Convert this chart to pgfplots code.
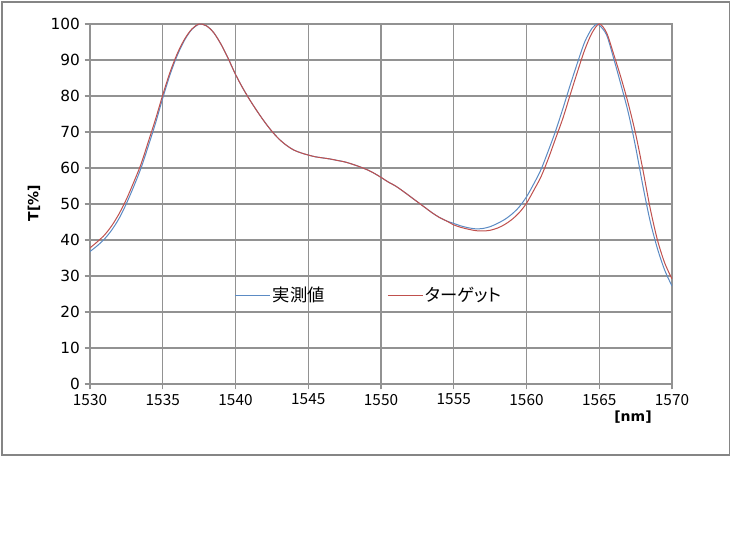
\documentclass[border=0pt]{standalone}
\usepackage{fontspec}
\setmainfont{DejaVu Sans}
\newfontfamily\jp{Noto Sans CJK JP}
\newfontfamily\jpp[RawFeature=+palt]{Noto Sans CJK JP}
\usepackage{pgfplots}
\pgfplotsset{compat=1.18}
\definecolor{meas}{HTML}{5B8BC4}
\definecolor{targ}{HTML}{C0504D}
\definecolor{gridc}{HTML}{929292}
\definecolor{framec}{HTML}{858585}
\begin{document}
\begin{tikzpicture}
\path[use as bounding box, fill=white] (0,0) rectangle (549pt,412.5pt);
\draw[framec, line width=1.1pt] (1.5pt,71.25pt) rectangle (547pt,411pt);
\begin{axis}[
  at={(67.5pt,124.5pt)}, anchor=south west,
  scale only axis, width=436.5pt, height=270pt,
  xmin=1530, xmax=1570, ymin=0, ymax=100,
  xtick={1530,1535,...,1570}, ytick={0,10,...,100},
  grid=major, major grid style={gridc, line width=0.8pt},
  axis line style={gridc, line width=0.8pt},
  tick style={gridc, line width=0.8pt},
  tick align=outside, major tick length=4pt,
  xtick pos=bottom, ytick pos=left,
  /pgf/number format/assume math mode=true,
  /pgf/number format/set thousands separator={},
  xticklabel style={font=\jp\fontsize{11.5}{13}\selectfont},
  yticklabel style={font=\fontsize{11.5}{13}\selectfont},
  legend style={at={(axis cs:1549.2,24.7)}, anchor=center, draw=none, fill=none,
    font=\jpp\fontsize{13}{15}\selectfont,
    /tikz/every even column/.append style={column sep=45pt}},
  legend columns=2,
  legend image code/.code={\draw[#1] (0pt,0pt) -- (26pt,0pt);},
]
\addplot[meas, line width=0.75pt, smooth, tension=0.5] table {
1530 36.8
1530.5 38.4
1531 40.3
1531.5 42.8
1532 46.0
1532.5 50.1
1533 54.8
1533.5 59.9
1534 66.0
1534.5 72.4
1535 79.4
1535.5 85.9
1536 91.3
1536.5 95.5
1537 98.5
1537.5 99.9
1538 99.5
1538.5 97.6
1539 94.4
1539.5 90.4
1540 86.0
1540.5 82.2
1541 78.8
1541.5 75.7
1542 72.8
1542.5 70.2
1543 68.0
1543.5 66.3
1544 65.0
1544.5 64.2
1545 63.6
1545.5 63.1
1546 62.8
1546.5 62.5
1547 62.1
1547.5 61.7
1548 61.1
1548.5 60.4
1549 59.6
1549.5 58.6
1550 57.4
1550.5 56.1
1551 55.0
1551.5 53.6
1552 52.1
1552.5 50.6
1553 49.1
1553.5 47.6
1554 46.3
1554.5 45.3
1555 44.6
1555.5 43.9
1556 43.4
1556.5 43.1
1557 43.2
1557.5 43.7
1558 44.6
1558.5 45.7
1559 47.2
1559.5 49.2
1560 52.0
1560.5 55.6
1561 59.6
1561.5 64.8
1562 70.3
1562.5 76.5
1563 83.0
1563.5 89.2
1564 95.0
1564.5 98.8
1564.85 100
1565 99.7
1565.5 97.0
1566 90.3
1566.5 83.0
1567 75.3
1567.5 65.8
1568 55.0
1568.5 45.2
1569 37.6
1569.5 31.6
1570 27.2
};
\addlegendentry{実測値}
\addplot[targ, line width=0.75pt, smooth, tension=0.5] table {
1530 37.8
1530.5 39.5
1531 41.4
1531.5 44.0
1532 47.3
1532.5 51.3
1533 56.0
1533.5 61.0
1534 67.2
1534.5 73.5
1535 80.3
1535.5 86.6
1536 91.8
1536.5 95.8
1537 98.6
1537.5 100
1538 99.5
1538.5 97.6
1539 94.4
1539.5 90.4
1540 86.0
1540.5 82.2
1541 78.8
1541.5 75.7
1542 72.8
1542.5 70.2
1543 68.0
1543.5 66.3
1544 65.0
1544.5 64.2
1545 63.6
1545.5 63.1
1546 62.8
1546.5 62.5
1547 62.1
1547.5 61.7
1548 61.1
1548.5 60.4
1549 59.6
1549.5 58.6
1550 57.4
1550.5 56.1
1551 55.0
1551.5 53.6
1552 52.1
1552.5 50.6
1553 49.1
1553.5 47.6
1554 46.3
1554.5 45.3
1555 44.2
1555.5 43.5
1556 43.0
1556.5 42.6
1557 42.5
1557.5 42.7
1558 43.3
1558.5 44.3
1559 45.7
1559.5 47.6
1560 50.2
1560.5 53.8
1561 57.6
1561.5 62.6
1562 68.2
1562.5 73.8
1563 80.3
1563.5 86.7
1564 92.8
1564.5 97.5
1565 100
1565.5 97.6
1566 91.5
1566.5 85.0
1567 77.8
1567.5 69.5
1568 59.5
1568.5 48.8
1569 40.0
1569.5 33.6
1570 29.2
};
\addlegendentry{ターゲット}
\end{axis}
\node[font=\bfseries\fontsize{10.5}{12}\selectfont, rotate=90] at (25.5pt,260.25pt) {T[\%]};
\node[font=\bfseries\fontsize{10.5}{12}\selectfont] at (474.75pt,99.75pt) {[nm]};
\end{tikzpicture}
\end{document}
